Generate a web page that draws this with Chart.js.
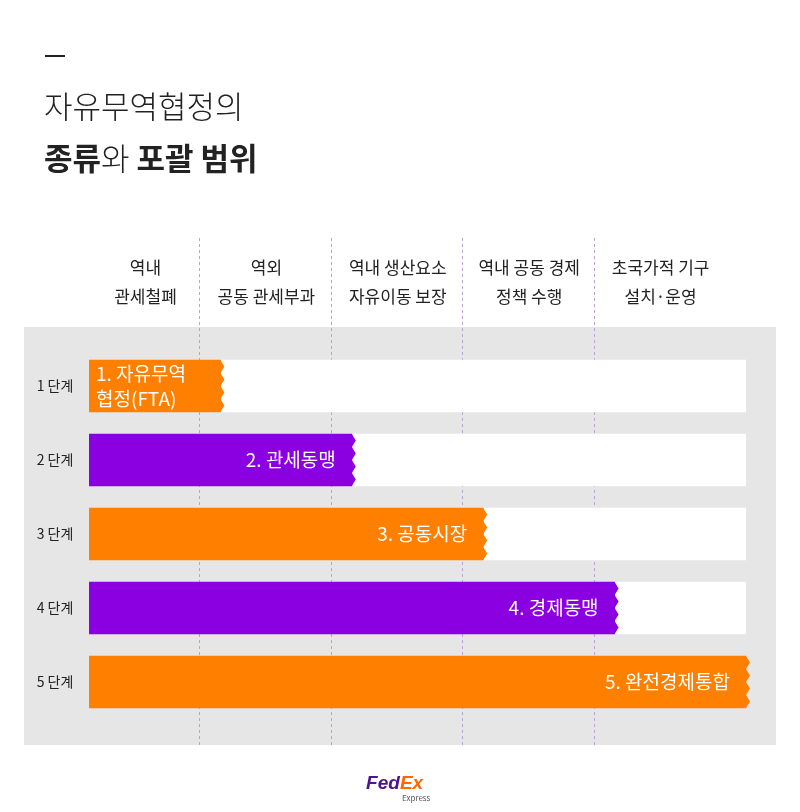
<!DOCTYPE html>
<html><head><meta charset="utf-8">
<script src="https://cdn.jsdelivr.net/npm/chart.js"></script>
<style>html,body{margin:0;padding:0;background:#fff}#w{width:800px;height:812px}</style>
</head><body><div id="w"><canvas id="c"></canvas></div>
<script>
const stages = ['1 단계','2 단계','3 단계','4 단계','5 단계'];
const levels = [1,2,3,4,5];
const barLabels = [['1. 자유무역','협정(FTA)'],['2. 관세동맹'],['3. 공동시장'],['4. 경제동맹'],['5. 완전경제통합']];
const colHeaders = [['역내','관세철폐'],['역외','공동 관세부과'],['역내 생산요소','자유이동 보장'],['역내 공동 경제','정책 수행'],['초국가적 기구','설치·운영']];
const colCenters = [0.43,1.35,2.35,3.35,4.35];
const colBounds = [0.84,1.84,2.84,3.84];
const total = 5;
const colors = ['#FF7F00','#8A00E0','#FF7F00','#8A00E0','#FF7F00'];
const F = '"Noto Sans CJK KR","Noto Sans",sans-serif';

const deco = {
  id:'deco',
  beforeDraw(ch){
    const c=ch.ctx, x=ch.scales.x;
    c.save();
    c.fillStyle='#fff';c.fillRect(0,0,800,812);
    c.fillStyle='#e6e6e6';c.fillRect(24,327,752,418);
    c.strokeStyle='#b9a3d6';c.setLineDash([3,3]);c.lineWidth=1;
    colBounds.forEach(v=>{const p=Math.round(x.getPixelForValue(v))+0.5;c.beginPath();c.moveTo(p,238);c.lineTo(p,745);c.stroke();});
    c.setLineDash([]);
    c.fillStyle='#222';c.font='400 17px '+F;c.textAlign='center';c.textBaseline='middle';
    colHeaders.forEach((h,i)=>{const p=x.getPixelForValue(colCenters[i]);h.forEach((t,j)=>c.fillText(t,p,268+j*29));});
    c.textAlign='left';c.fillStyle='#222';
    c.fillRect(45,55,20,2);
    c.font='300 31px '+F;c.textBaseline='alphabetic';c.fillText('자유무역협정의',44,118);
    let px=44;
    [['종류',700],['와',300],[' ',300],['포괄 범위',700]].forEach(([t,w])=>{c.font=w+' 31px '+F;c.fillText(t,px,170);px+=c.measureText(t).width;});
    const y=ch.scales.y;
    c.font='400 14px '+F;c.textBaseline='middle';c.textAlign='center';c.fillStyle='#222';
    stages.forEach((s,i)=>c.fillText(s,55,y.getPixelForValue(i)));
    c.textAlign='center';c.font='italic 700 19px Arial,"Liberation Sans",sans-serif';
    c.fillStyle='#4d148c';c.fillText('Fed',383,784);const w=c.measureText('Fed').width;
    c.fillStyle='#ff6600';c.textAlign='left';c.fillText('Ex',383+w/2,784);
    c.font='400 8px '+F;c.fillStyle='#555';c.fillText('Express',402,798);
    c.restore();
  },
  afterDatasetsDraw(ch){
    const c=ch.ctx,x=ch.scales.x,y=ch.scales.y;
    c.save();c.fillStyle='#fff';c.font='400 19px '+F;c.textBaseline='middle';
    levels.forEach((v,i)=>{
      const yc=y.getPixelForValue(i), xe=x.getPixelForValue(v);
      // zigzag edge
      c.fillStyle=colors[i];c.beginPath();
      for(let k=0;k<=8;k++){const yy=yc-26+k*6.5;c.lineTo(xe+(k%2?4:0),yy);}
      c.lineTo(xe-1,yc+26);c.lineTo(xe-1,yc-26);c.fill();
      c.fillStyle='#fff';
      const L=barLabels[i];
      if(L.length>1){c.textAlign='left';L.forEach((t,j)=>c.fillText(t,x.getPixelForValue(0)+7,yc-12+j*25));}
      else{c.textAlign='right';c.fillText(L[0],xe-16,yc);}
    });
    c.restore();
  }
};
new Chart(document.getElementById('c'),{
  type:'bar',
  data:{labels:stages,datasets:[
    {data:levels,backgroundColor:colors,barThickness:52,borderSkipped:false},
    {data:levels.map(v=>total-v),backgroundColor:'#fff',barThickness:52}
  ]},
  options:{indexAxis:'y',responsive:true,maintainAspectRatio:false,animation:false,
    layout:{padding:{left:89,right:54,top:349,bottom:93}},
    plugins:{legend:{display:false},tooltip:{enabled:false}},
    scales:{x:{stacked:true,min:0,max:total,display:false},y:{stacked:true,display:false}}},
  plugins:[deco]
});
</script></body></html>
